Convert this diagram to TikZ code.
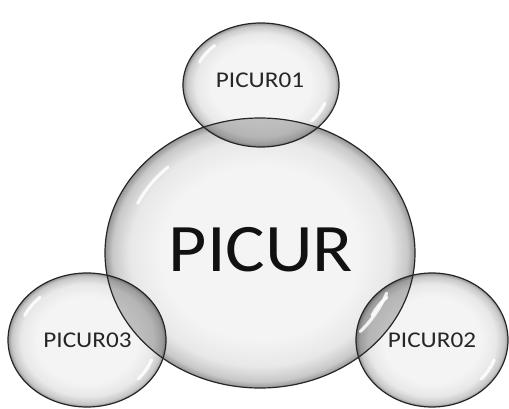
\documentclass[tikz,border=0pt]{standalone}
\usepackage{fontspec}
\setmainfont{Carlito}
\usetikzlibrary{shapes.geometric}
\definecolor{bubA}{HTML}{F4F4F4}
\definecolor{bubB}{HTML}{E8E8E8}
\definecolor{bubC}{HTML}{C8C8C8}
\definecolor{bubD}{HTML}{959595}
\definecolor{txtdark}{HTML}{111111}
\definecolor{txtsmall}{HTML}{262626}
\pgfdeclareradialshading{bubble}{\pgfpoint{0bp}{0bp}}{%
  color(0bp)=(bubA); color(16bp)=(bubA); color(21bp)=(bubB);
  color(23.8bp)=(bubC); color(25bp)=(bubD); color(50bp)=(bubD)}
\tikzset{
  bubbleshade/.style={shading=bubble},
  overlapfill/.style={fill=black, fill opacity=0.22},
  hl/.style={draw=white, line width=3.2pt, line cap=round, draw opacity=0.85},
  outline/.style={draw=black!85, line width=1.2pt},
  bigtext/.style={font=\fontsize{68}{70}\selectfont, text=txtdark},
  smalltext/.style={font=\fontsize{22.5}{24}\selectfont, text=txtsmall}
}
\newcommand\mybub[4]{% cx, cy, rx, ry
  \shade[bubbleshade] (#1,#2) ellipse [x radius=#3, y radius=#4];}
\newcommand\myhl[4]{%
  \draw[hl] ([shift={(133:0.87*#3 and 0.87*#4)}]#1,#2)
     arc[start angle=133, end angle=155, x radius=0.87*#3, y radius=0.87*#4];
  \draw[hl] ([shift={(-20:0.87*#3 and 0.87*#4)}]#1,#2)
     arc[start angle=-20, end angle=-42, x radius=0.87*#3, y radius=0.87*#4];}
\newcommand\myline[4]{%
  \draw[outline] (#1,#2) ellipse [x radius=#3, y radius=#4];}
\begin{document}
\begin{tikzpicture}[x=1pt,y=1pt]
\useasboundingbox[fill=white] (0,0) rectangle (509,408);
% bubbles
\mybub{260}{155}{155}{135}
\mybub{261}{323}{78}{62}
\mybub{87}{68}{79}{67}
\mybub{432}{68}{76}{67}
% overlaps
\begin{scope}
  \clip (260,155) ellipse [x radius=155, y radius=135];
  \fill[overlapfill] (261,323) ellipse [x radius=78, y radius=62];
  \fill[overlapfill] (87,68) ellipse [x radius=79, y radius=67];
  \fill[overlapfill] (432,68) ellipse [x radius=76, y radius=67];
\end{scope}
% highlights
\myhl{260}{155}{155}{135}
\myhl{261}{323}{78}{62}
\myhl{87}{68}{79}{67}
\myhl{432}{68}{76}{67}
% outlines
\myline{260}{155}{155}{135}
\myline{261}{323}{78}{62}
\myline{87}{68}{79}{67}
\myline{432}{68}{76}{67}
% labels
\node[bigtext] (main) at (261,158) {\scalebox{1.09}[1]{PICUR}};
\node[smalltext] (p1) at (260,328) {\scalebox{1.12}[1]{PICUR01}};
\node[smalltext] (p3) at (87.5,68) {\scalebox{1.12}[1]{PICUR03}};
\node[smalltext] (p2) at (432,68) {\scalebox{1.12}[1]{PICUR02}};
\end{tikzpicture}
\end{document}
